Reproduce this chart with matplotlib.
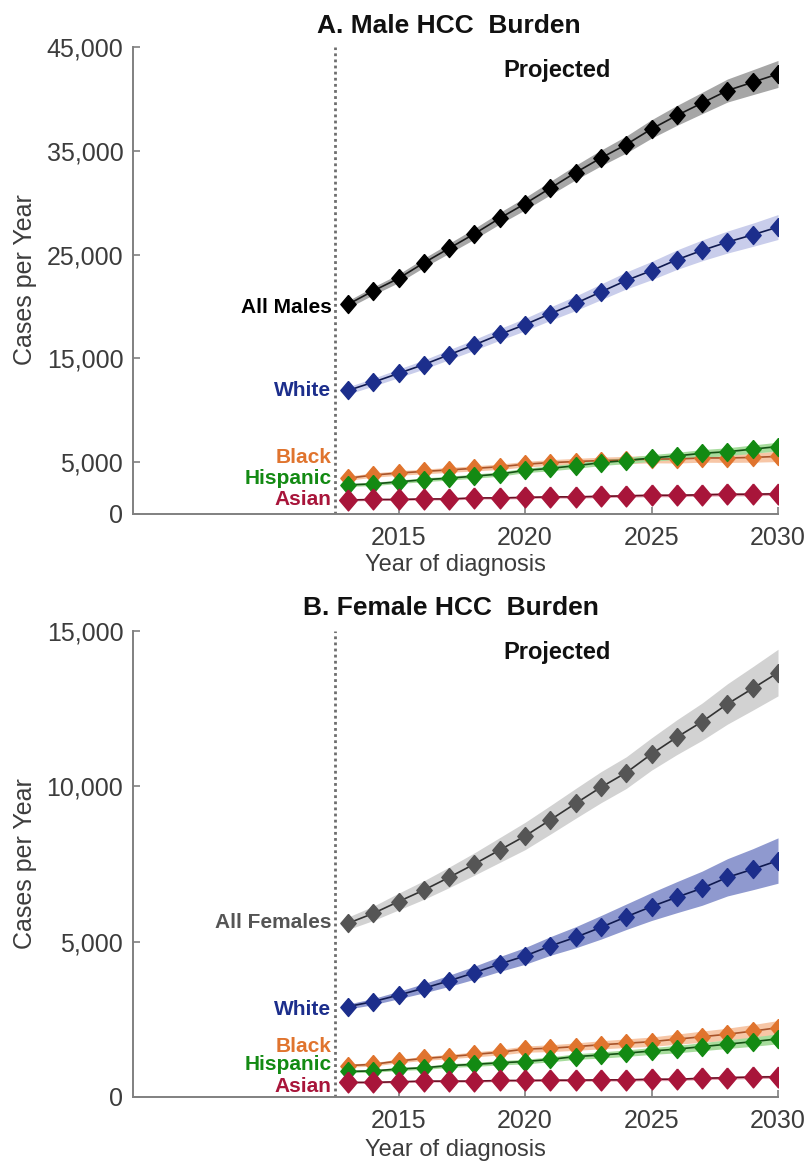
import matplotlib
matplotlib.use("Agg")
import matplotlib.pyplot as plt

plt.rcParams['font.family'] = ['Liberation Sans', 'DejaVu Sans']

years = list(range(2013, 2031))

# Male projections (cases per year) and half-width of the uncertainty band
male_all = [20200, 21500, 22700, 24200, 25600, 27000, 28500, 29900, 31400,
            32900, 34300, 35600, 37100, 38400, 39600, 40800, 41600, 42400]
male_all_ci = [350, 380, 410, 440, 480, 520, 560, 600, 650,
               700, 760, 820, 890, 960, 1030, 1110, 1200, 1300]
male_white = [11900, 12700, 13550, 14400, 15350, 16300, 17300, 18250, 19300,
              20300, 21400, 22500, 23450, 24500, 25400, 26200, 26900, 27650]
male_white_ci = [350, 380, 410, 440, 480, 520, 560, 600, 650,
                 700, 760, 820, 880, 940, 1000, 1060, 1120, 1200]
male_black = [3450, 3750, 3950, 4100, 4250, 4400, 4550, 4800, 4950,
              5050, 5150, 5200, 5300, 5300, 5400, 5400, 5450, 5550]
male_black_ci = [200, 210, 220, 230, 240, 250, 260, 270, 290,
                 310, 330, 350, 370, 390, 410, 430, 460, 500]
male_hispanic = [2800, 2900, 3100, 3300, 3450, 3650, 3850, 4200, 4400,
                 4650, 4950, 5150, 5400, 5600, 5850, 6000, 6250, 6500]
male_hispanic_ci = [150, 160, 170, 180, 190, 200, 210, 220, 240,
                    260, 280, 300, 320, 340, 360, 380, 400, 420]
male_asian = [1350, 1400, 1400, 1450, 1450, 1550, 1550, 1600, 1650,
              1650, 1700, 1750, 1800, 1800, 1850, 1900, 1900, 1950]
male_asian_ci = [100, 100, 100, 110, 110, 110, 120, 120, 120,
                 130, 130, 130, 140, 140, 140, 150, 150, 150]

# Female projections
female_all = [5590, 5910, 6290, 6660, 7070, 7500, 7950, 8400, 8920,
              9450, 9970, 10440, 11040, 11580, 12080, 12650, 13150, 13660]
female_all_ci = [200, 230, 270, 300, 330, 360, 400, 440, 460,
                 480, 500, 510, 520, 560, 600, 650, 700, 750]
female_white = [2910, 3070, 3280, 3500, 3740, 4000, 4280, 4540, 4860,
                5140, 5460, 5800, 6130, 6430, 6720, 7070, 7330, 7610]
female_white_ci = [80, 100, 120, 150, 180, 210, 240, 270, 300,
                   340, 380, 410, 450, 500, 550, 600, 660, 730]
female_black = [1010, 1050, 1160, 1240, 1300, 1370, 1440, 1540, 1570,
                1620, 1680, 1730, 1780, 1860, 1940, 2020, 2120, 2230]
female_black_ci = [50, 55, 60, 65, 70, 80, 90, 100, 110,
                   120, 130, 140, 150, 165, 180, 195, 210, 230]
female_hispanic = [820, 840, 900, 940, 1010, 1050, 1100, 1140, 1210,
                   1300, 1350, 1410, 1480, 1540, 1620, 1700, 1780, 1870]
female_hispanic_ci = [40, 45, 50, 55, 60, 65, 70, 75, 80,
                      90, 100, 105, 110, 120, 130, 140, 150, 160]
female_asian = [470, 470, 490, 510, 510, 510, 530, 530, 540,
                540, 550, 550, 570, 570, 600, 620, 640, 650]
female_asian_ci = [30, 30, 30, 30, 35, 35, 35, 35, 40,
                   40, 40, 40, 45, 45, 45, 50, 50, 50]

male_yticks = [0, 5000, 15000, 25000, 35000, 45000]
female_yticks = [0, 5000, 10000, 15000]
xticks = [2015, 2020, 2025, 2030]

# colour per series: marker, line, band
STYLE = {
    'all_m': ('#000000', '#1a1a1a', '#a6a6a6'),
    'all_f': ('#555555', '#333333', '#d2d2d2'),
    'white_m': ('#1c2e8c', '#101a50', '#c9cdeb'),
    'white_f': ('#1c2e8c', '#101a50', '#8f99cf'),
    'black': ('#e0742e', '#a9542a', '#f7c6a6'),
    'hispanic': ('#138a13', '#145214', '#a6dc9c'),
    'asian': ('#a8153a', '#6a1024', '#e6a3b3'),
}
GREY_TEXT = '#3c3c3c'
# slightly tall diamond
DIAMOND = [(0, 1), (0.85, 0), (0, -1), (-0.85, 0), (0, 1)]


def draw_series(ax, values, ci, style, size=13):
    marker, line, band = STYLE[style]
    lo = [v - c for v, c in zip(values, ci)]
    hi = [v + c for v, c in zip(values, ci)]
    ax.fill_between(years, lo, hi, color=band, lw=0, zorder=1)
    ax.plot(years, values, '-', color=line, lw=1.2, zorder=2)
    ax.plot(years, values, ls='none', marker=DIAMOND, color=marker, ms=size,
            mec=marker, zorder=3)


def style_axes(ax, ymax, yticks):
    ax.set_xlim(2004.5, 2030)
    ax.set_ylim(0, ymax)
    ax.set_yticks(yticks)
    ax.set_yticklabels([f"{t:,}" for t in yticks])
    ax.set_xticks(xticks)
    for side in ['top', 'right']:
        ax.spines[side].set_visible(False)
    for side in ['left', 'bottom']:
        ax.spines[side].set_color('#808080')
        ax.spines[side].set_linewidth(1.4)
    ax.tick_params(direction='in', length=5, width=1.2, color='#808080',
                   labelsize=18, labelcolor=GREY_TEXT)
    ax.tick_params(axis='x', pad=9)
    ax.tick_params(axis='y', pad=7)
    ax.axvline(2012.5, color='#6e6e6e', ls=(0, (1, 1.2)), lw=2, zorder=0)
    ax.set_facecolor('none')


def add_labels(ax, labels):
    for text, y, color in labels:
        ax.text(2012.35, y, text, ha='right', va='center', fontsize=15,
                fontweight='bold', color=color)


fig = plt.figure(figsize=(8.09, 11.65), dpi=100)
ax_m = fig.add_axes([0.1644, 0.5588, 0.7973, 0.4009])
ax_f = fig.add_axes([0.1644, 0.0584, 0.7973, 0.4000])

# Panel A: males
style_axes(ax_m, 45000, male_yticks)
draw_series(ax_m, male_all, male_all_ci, 'all_m')
draw_series(ax_m, male_white, male_white_ci, 'white_m')
draw_series(ax_m, male_black, male_black_ci, 'black')
draw_series(ax_m, male_hispanic, male_hispanic_ci, 'hispanic')
draw_series(ax_m, male_asian, male_asian_ci, 'asian', size=15)
add_labels(ax_m, [('All Males', 19900, '#000000'),
                  ('White', 11900, STYLE['white_m'][0]),
                  ('Black', 5400, STYLE['black'][0]),
                  ('Hispanic', 3400, STYLE['hispanic'][0]),
                  ('Asian', 1350, STYLE['asian'][0])])

# Panel B: females
style_axes(ax_f, 15000, female_yticks)
draw_series(ax_f, female_all, female_all_ci, 'all_f')
draw_series(ax_f, female_white, female_white_ci, 'white_f')
draw_series(ax_f, female_black, female_black_ci, 'black')
draw_series(ax_f, female_hispanic, female_hispanic_ci, 'hispanic')
draw_series(ax_f, female_asian, female_asian_ci, 'asian', size=15)
add_labels(ax_f, [('All Females', 5600, STYLE['all_f'][0]),
                  ('White', 2800, STYLE['white_f'][0]),
                  ('Black', 1640, STYLE['black'][0]),
                  ('Hispanic', 1030, STYLE['hispanic'][0]),
                  ('Asian', 350, STYLE['asian'][0])])

H = 1165.0
W = 809.0
for y_title, x_title, title in [(26, 317, 'A. Male HCC  Burden'),
                                (608, 303, 'B. Female HCC  Burden')]:
    fig.text(x_title / W, 1 - y_title / H, title, fontsize=19,
             fontweight='bold', ha='left', va='center', color='#111111')
for y_proj in [71, 652]:
    fig.text(557 / W, 1 - y_proj / H, 'Projected', fontsize=17,
             fontweight='bold', ha='center', va='center', color='#111111')
for y_xl in [565, 1150]:
    fig.text(455 / W, 1 - y_xl / H, 'Year of diagnosis', fontsize=17,
             ha='center', va='center', color=GREY_TEXT)
for y_yl in [280, 864]:
    fig.text(25 / W, 1 - y_yl / H, 'Cases per Year', fontsize=18,
             rotation=90, ha='center', va='center', color=GREY_TEXT)

fig.savefig('out.png', dpi=100, facecolor='white')
